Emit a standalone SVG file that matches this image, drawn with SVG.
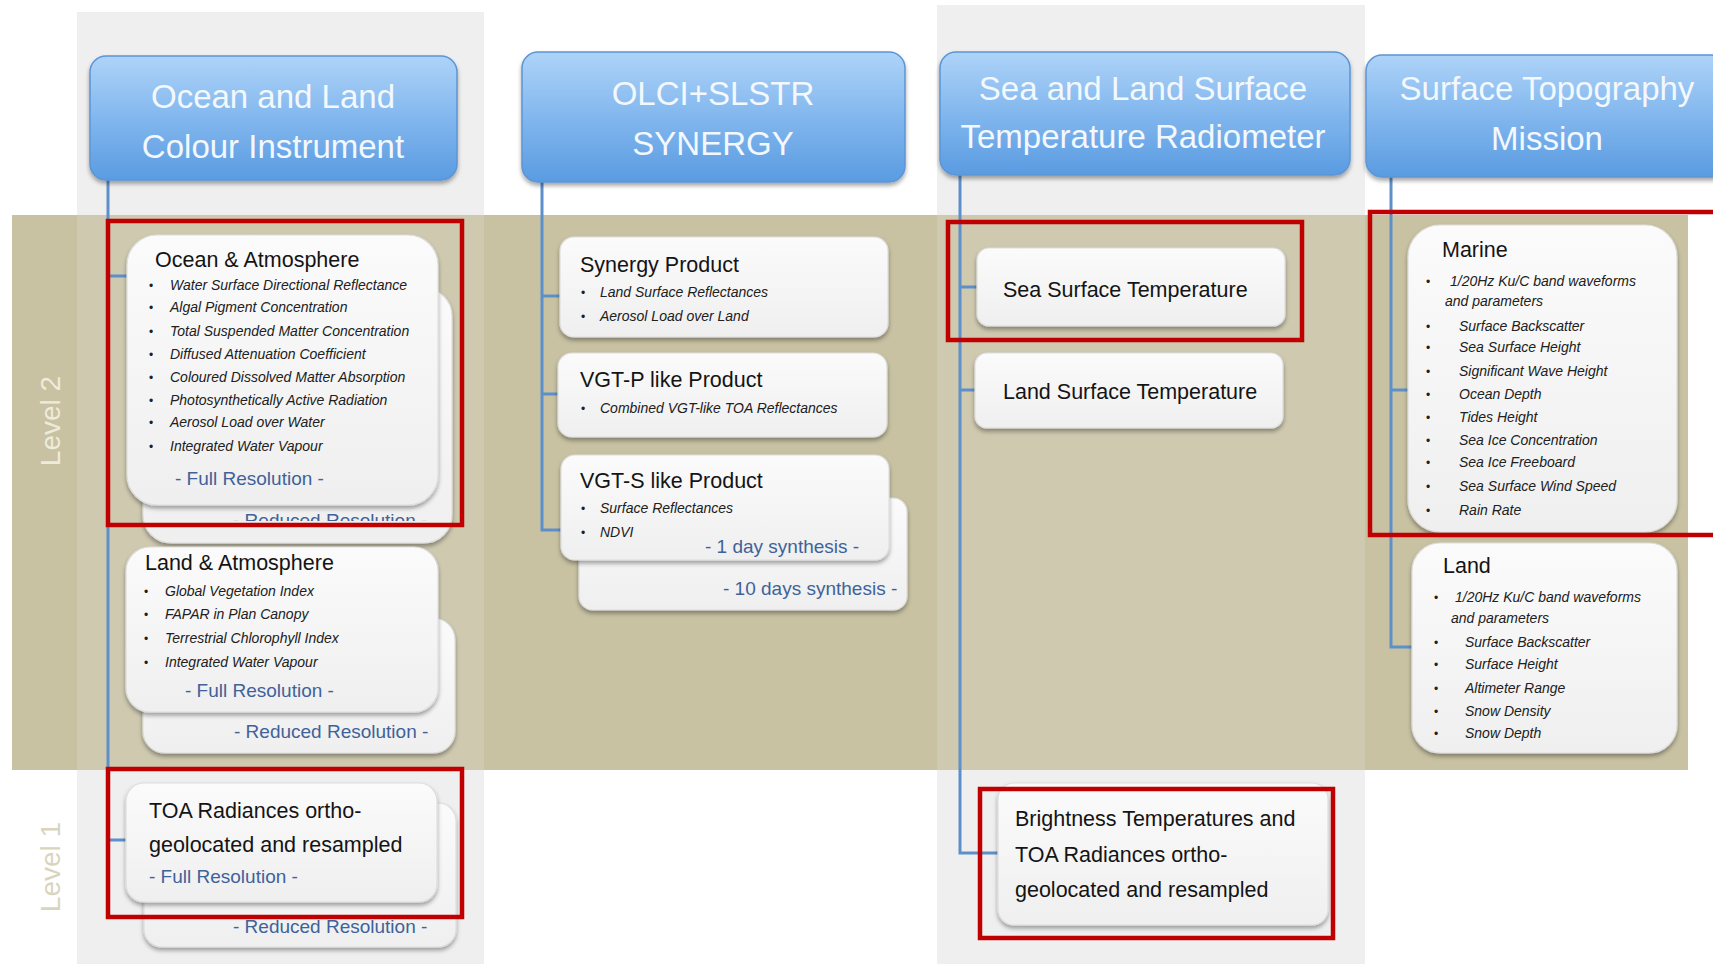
<svg xmlns="http://www.w3.org/2000/svg" width="1713" height="964" viewBox="0 0 1713 964">
<defs>
<linearGradient id="gBlue" x1="0" y1="0" x2="0" y2="1">
<stop offset="0" stop-color="#aed3f8"/><stop offset="0.5" stop-color="#82b7ee"/><stop offset="1" stop-color="#5a9be1"/>
</linearGradient>
<linearGradient id="gCard" x1="0" y1="0" x2="0" y2="1">
<stop offset="0" stop-color="#fbfbfb"/><stop offset="1" stop-color="#efefef"/>
</linearGradient>
<filter id="sh" x="-10%" y="-10%" width="120%" height="130%">
<feDropShadow dx="0" dy="3" stdDeviation="2.2" flood-color="#000" flood-opacity="0.35"/>
</filter>
<clipPath id="clipRR"><rect x="120" y="480" width="340" height="41"/></clipPath>
<style>
.hdr{fill:url(#gBlue);stroke:#5b95d6;stroke-width:1.5;filter:url(#sh)}
.hdrT{font-family:"Liberation Sans",Arial,sans-serif;font-size:33px;fill:#f3f8fd;text-anchor:middle}
.card{fill:url(#gCard);stroke:#dedede;stroke-width:1.2;filter:url(#sh)}
.ttl{font-family:"Liberation Sans",Arial,sans-serif;font-size:21.5px;fill:#141414}
.it{font-family:"Liberation Sans",Arial,sans-serif;font-size:14px;font-style:italic;fill:#202020}
.b{font-family:"Liberation Sans",Arial,sans-serif;font-size:12px;fill:#202020}
.res{font-family:"Liberation Sans",Arial,sans-serif;font-size:19px;fill:#3f6299}
.red{fill:none;stroke:#c00000;stroke-width:4.5}
.con{fill:none;stroke:#5d90ca;stroke-width:3}
.lvl{font-family:"Liberation Sans",Arial,sans-serif;font-size:28px;text-anchor:middle}
</style>
</defs>
<rect x="0" y="0" width="1713" height="964" fill="#ffffff"/>
<g id="background">
<rect x="77" y="12" width="407" height="952" fill="#efefef"/>
<rect x="937" y="5" width="428" height="959" fill="#efefef"/>
<rect x="12" y="215" width="1676" height="555" fill="#c8c2a3"/>
<rect x="77" y="215" width="407" height="555" fill="#efefef" opacity="0.17"/>
<rect x="937" y="215" width="428" height="555" fill="#efefef" opacity="0.17"/>
<text class="lvl" transform="translate(60,421) rotate(-90)" fill="#efebdc">Level 2</text>
<text class="lvl" transform="translate(60,867) rotate(-90)" fill="#d9d5bd">Level 1</text>
</g>
<g id="connectors">
<path class="con" d="M108,180 V840 H127 M108,276 H128"/>
<path class="con" d="M542,182 V530 H562 M542,296 H561 M542,394 H559"/>
<path class="con" d="M960,175 V853 H999 M960,287 H978 M960,390 H976"/>
<path class="con" d="M1391,177 V647 H1413 M1391,390 H1409"/>
</g>
<g id="hdr-olci">
<rect class="hdr" x="90" y="56" width="367" height="124" rx="16"/>
<text class="hdrT" x="273" y="108">Ocean and Land</text>
<text class="hdrT" x="273" y="158">Colour Instrument</text>
</g>
<g id="hdr-synergy">
<rect class="hdr" x="522" y="52" width="383" height="130" rx="16"/>
<text class="hdrT" x="713" y="105">OLCI+SLSTR</text>
<text class="hdrT" x="713" y="155">SYNERGY</text>
</g>
<g id="hdr-slstr">
<rect class="hdr" x="940" y="52" width="410" height="123" rx="16"/>
<text class="hdrT" x="1143" y="100">Sea and Land Surface</text>
<text class="hdrT" x="1143" y="148">Temperature Radiometer</text>
</g>
<g id="hdr-stm">
<rect class="hdr" x="1366" y="55" width="362" height="122" rx="16"/>
<text class="hdrT" x="1547" y="100">Surface Topography</text>
<text class="hdrT" x="1547" y="150">Mission</text>
</g>
<g id="olci-ocean-atm">
<rect class="card" x="143" y="288" width="309" height="255" rx="28"/>
<text class="res" x="233" y="527" clip-path="url(#clipRR)">- Reduced Resolution -</text>
<rect class="card" x="127" y="235" width="311" height="270" rx="30"/>
<text class="ttl" x="155" y="267">Ocean &amp; Atmosphere</text>
<g class="b"><text x="149" y="290">•</text><text x="149" y="312">•</text><text x="149" y="336">•</text><text x="149" y="359">•</text><text x="149" y="382">•</text><text x="149" y="405">•</text><text x="149" y="427">•</text><text x="149" y="451">•</text></g>
<text class="it" x="170" y="290">Water Surface Directional Reflectance</text>
<text class="it" x="170" y="312">Algal Pigment Concentration</text>
<text class="it" x="170" y="336">Total Suspended Matter Concentration</text>
<text class="it" x="170" y="359">Diffused Attenuation Coefficient</text>
<text class="it" x="170" y="382">Coloured Dissolved Matter Absorption</text>
<text class="it" x="170" y="405">Photosynthetically Active Radiation</text>
<text class="it" x="170" y="427">Aerosol Load over Water</text>
<text class="it" x="170" y="451">Integrated Water Vapour</text>
<text class="res" x="175" y="485">- Full Resolution -</text>
</g>
<g id="olci-land-atm">
<rect class="card" x="143" y="618" width="312" height="135" rx="22"/>
<text class="res" x="234" y="738">- Reduced Resolution -</text>
<rect class="card" x="126" y="547" width="312" height="165" rx="24"/>
<text class="ttl" x="145" y="570">Land &amp; Atmosphere</text>
<g class="b"><text x="144" y="596">•</text><text x="144" y="619">•</text><text x="144" y="643">•</text><text x="144" y="667">•</text></g>
<text class="it" x="165" y="596">Global Vegetation Index</text>
<text class="it" x="165" y="619">FAPAR in Plan Canopy</text>
<text class="it" x="165" y="643">Terrestrial Chlorophyll Index</text>
<text class="it" x="165" y="667">Integrated Water Vapour</text>
<text class="res" x="185" y="697">- Full Resolution -</text>
</g>
<g id="olci-toa">
<rect class="card" x="144" y="803" width="312" height="144" rx="18"/>
<text class="res" x="233" y="933">- Reduced Resolution -</text>
<rect class="card" x="126" y="783" width="311" height="119" rx="18"/>
<text class="ttl" x="149" y="818">TOA Radiances ortho-</text>
<text class="ttl" x="149" y="852">geolocated and resampled</text>
<text class="res" x="149" y="883">- Full Resolution -</text>
</g>
<g id="syn-product">
<rect class="card" x="560" y="237" width="328" height="100" rx="14"/>
<text class="ttl" x="580" y="272">Synergy Product</text>
<g class="b"><text x="581" y="297">•</text><text x="581" y="321">•</text></g>
<text class="it" x="600" y="297">Land Surface Reflectances</text>
<text class="it" x="600" y="321">Aerosol Load over Land</text>
</g>
<g id="syn-vgtp">
<rect class="card" x="558" y="353" width="329" height="84" rx="14"/>
<text class="ttl" x="580" y="387">VGT-P like Product</text>
<text class="b" x="581" y="413">•</text>
<text class="it" x="600" y="413">Combined VGT-like TOA Reflectances</text>
</g>
<g id="syn-vgts">
<rect class="card" x="579" y="498" width="328" height="112" rx="14"/>
<text class="res" x="723" y="595">- 10 days synthesis -</text>
<rect class="card" x="561" y="455" width="328" height="105" rx="14"/>
<text class="ttl" x="580" y="488">VGT-S like Product</text>
<g class="b"><text x="581" y="513">•</text><text x="581" y="537">•</text></g>
<text class="it" x="600" y="513">Surface Reflectances</text>
<text class="it" x="600" y="537">NDVI</text>
<text class="res" x="705" y="553">- 1 day synthesis -</text>
</g>
<g id="slstr-sst">
<rect class="card" x="977" y="248" width="308" height="78" rx="12"/>
<text class="ttl" x="1003" y="297">Sea Surface Temperature</text>
</g>
<g id="slstr-lst">
<rect class="card" x="975" y="353" width="308" height="75" rx="12"/>
<text class="ttl" x="1003" y="399">Land Surface Temperature</text>
</g>
<g id="slstr-bt">
<rect class="card" x="998" y="783" width="330" height="142" rx="16"/>
<text class="ttl" x="1015" y="826">Brightness Temperatures and</text>
<text class="ttl" x="1015" y="862">TOA Radiances ortho-</text>
<text class="ttl" x="1015" y="897">geolocated and resampled</text>
</g>
<g id="stm-marine">
<rect class="card" x="1408" y="225" width="269" height="307" rx="32"/>
<text class="ttl" x="1442" y="257">Marine</text>
<g class="b"><text x="1426" y="286">•</text><text x="1426" y="331">•</text><text x="1426" y="352">•</text><text x="1426" y="376">•</text><text x="1426" y="399">•</text><text x="1426" y="422">•</text><text x="1426" y="445">•</text><text x="1426" y="467">•</text><text x="1426" y="491">•</text><text x="1426" y="515">•</text></g>
<text class="it" x="1450" y="286">1/20Hz Ku/C band waveforms</text>
<text class="it" x="1445" y="306">and parameters</text>
<text class="it" x="1459" y="331">Surface Backscatter</text>
<text class="it" x="1459" y="352">Sea Surface Height</text>
<text class="it" x="1459" y="376">Significant Wave Height</text>
<text class="it" x="1459" y="399">Ocean Depth</text>
<text class="it" x="1459" y="422">Tides Height</text>
<text class="it" x="1459" y="445">Sea Ice Concentration</text>
<text class="it" x="1459" y="467">Sea Ice Freeboard</text>
<text class="it" x="1459" y="491">Sea Surface Wind Speed</text>
<text class="it" x="1459" y="515">Rain Rate</text>
</g>
<g id="stm-land">
<rect class="card" x="1412" y="543" width="265" height="210" rx="28"/>
<text class="ttl" x="1443" y="573">Land</text>
<g class="b"><text x="1434" y="602">•</text><text x="1434" y="647">•</text><text x="1434" y="669">•</text><text x="1434" y="693">•</text><text x="1434" y="716">•</text><text x="1434" y="738">•</text></g>
<text class="it" x="1455" y="602">1/20Hz Ku/C band waveforms</text>
<text class="it" x="1451" y="623">and parameters</text>
<text class="it" x="1465" y="647">Surface Backscatter</text>
<text class="it" x="1465" y="669">Surface Height</text>
<text class="it" x="1465" y="693">Altimeter Range</text>
<text class="it" x="1465" y="716">Snow Density</text>
<text class="it" x="1465" y="738">Snow Depth</text>
</g>
<g id="highlights">
<rect class="red" x="108" y="221" width="354" height="304"/>
<rect class="red" x="108" y="769" width="354" height="148"/>
<rect class="red" x="948" y="222" width="354" height="118"/>
<rect class="red" x="980" y="789" width="353" height="149"/>
<rect class="red" x="1370" y="212" width="360" height="323"/>
</g>
</svg>
